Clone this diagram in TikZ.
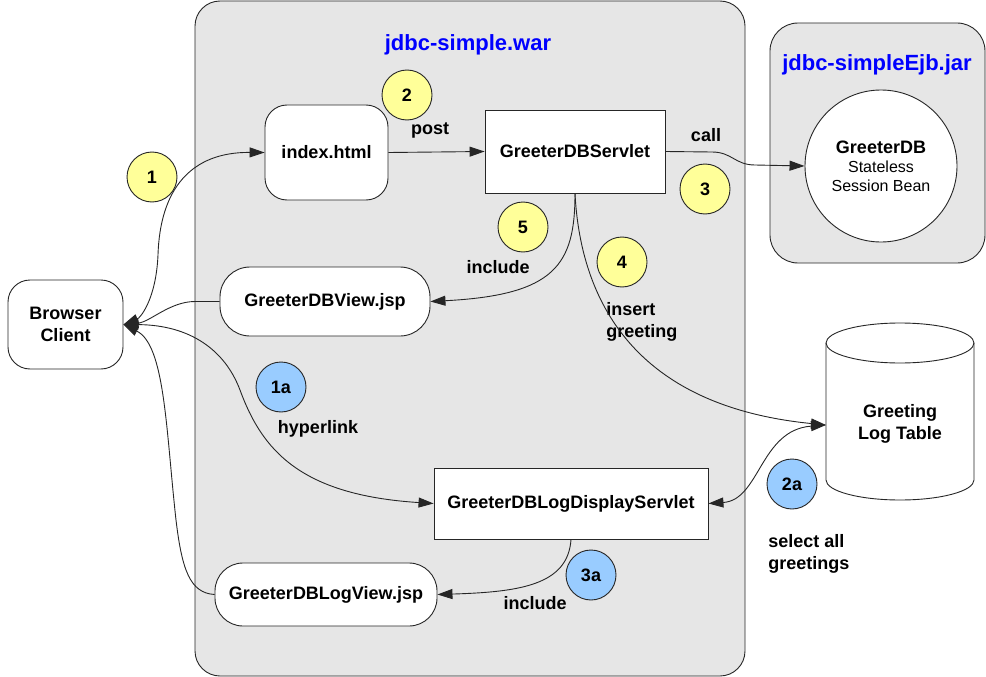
\documentclass[tikz,border=0pt]{standalone}
\usepackage{fontspec}
\setmainfont{Liberation Sans}
\usetikzlibrary{arrows.meta}
\definecolor{warfill}{RGB}{230,230,230}
\definecolor{stepyellow}{RGB}{255,255,153}
\definecolor{stepblue}{RGB}{153,204,255}
\newcommand{\lblfont}{\fontsize{18}{21.5}\selectfont\bfseries}
\tikzset{
  lbl/.style={font=\lblfont, inner sep=0pt},
  page/.style={draw, fill=white, rounded corners=22pt, inner sep=0pt, align=center, font=\lblfont},
  servlet/.style={draw, fill=white, inner sep=0pt, font=\lblfont},
  ybullet/.style={circle, draw, fill=stepyellow, minimum size=50pt, inner sep=0pt, font=\lblfont},
  bbullet/.style={ybullet, fill=stepblue},
  title/.style={text=blue, inner sep=0pt, font=\fontsize{22}{26}\selectfont\bfseries},
  flow/.style={-{Triangle[length=15pt,width=10pt]}},
  flow2/.style={{Triangle[length=15pt,width=10pt]}-{Triangle[length=15pt,width=10pt]}},
}
\begin{document}
\begin{tikzpicture}[x=1pt, y=-1pt, line width=0.9pt, draw=black!85]
      \useasboundingbox (0,0) rectangle (986,677);
      \draw[fill=warfill, rounded corners=25pt] (195,1) rectangle (745,676);
      \draw[fill=warfill, rounded corners=28pt] (770,23) rectangle (985,263);
      \node[title] (wartitle) at (468,45) {jdbc-simple.war};
      \node[title] (jartitle) at (877,65) {jdbc-simpleEjb.jar};
      \node[page, minimum width=115pt, minimum height=89pt] (bc) at (65.5,324.5) {Browser\\Client};
      \node[page, minimum width=123pt, minimum height=95pt] (idx) at (326.5,152.5) {index.html};
      \node[servlet, minimum width=180pt, minimum height=83pt] (srv) at (575,151.5) {GreeterDBServlet};
      \node[page, rounded corners=30pt, minimum width=210pt, minimum height=69pt] (gv) at (325,301.5) {GreeterDBView.jsp};
      \node[servlet, minimum width=274pt, minimum height=71pt] (lds) at (571,503.5) {GreeterDBLogDisplayServlet};
      \node[page, rounded corners=28pt, minimum width=222pt, minimum height=63pt] (glv) at (326,594.5) {GreeterDBLogView.jsp};
      \node[circle, draw, fill=white, minimum size=152pt, inner sep=0pt, align=center,
        font=\fontsize{16}{19}\selectfont] (gdb) at (881,166) {{\lblfont GreeterDB}\\Stateless\\Session Bean};
      \draw[fill=white] (826,343) -- (826,480) arc[start angle=180, end angle=0, x radius=74, y radius=20]
        -- (974,343) arc[start angle=0, end angle=-180, x radius=74, y radius=20] -- cycle;
      \draw (826,343) arc[start angle=180, end angle=0, x radius=74, y radius=20];
      \node[lbl, align=center] (glt) at (900,424) {Greeting\\Log Table};
      \coordinate (dbin) at (826,425);
      \node[ybullet] (s1) at (152,177) {1};
      \node[ybullet] (s2) at (407,95) {2};
      \node[ybullet] (s3) at (705,189) {3};
      \node[ybullet] (s4) at (622,262) {4};
      \node[ybullet] (s5) at (523,227) {5};
      \node[bbullet] (s1a) at (281,387) {1a};
      \node[bbullet] (s2a) at (792,484) {2a};
      \node[bbullet] (s3a) at (591,575) {3a};
      \node[lbl] (post) at (430,130) {post};
      \node[lbl] (call) at (706,135) {call};
      \node[lbl] (inc) at (498,267) {include};
      \node[lbl, align=left, anchor=west] (ins) at (606,322) {insert\\greeting};
      \node[lbl] (hyp) at (318,429) {hyperlink};
      \node[lbl, align=left, anchor=west] (sel) at (768,554) {select all\\greetings};
      \node[lbl] (inca) at (535,603) {include};
      \begin{scope}[flow]
        \draw[flow2] (bc.east) .. controls (140,318) and (156,300) .. (158,255) .. controls (160,190) and (190,152) .. (idx.west);
        \draw (gv.west) -- (195,301.5) .. controls (170,301.5) and (150,322) .. (bc.east);
        \draw[flow2] (bc.east) .. controls (190,325) and (225,350) .. (240,390) .. controls (262,450) and (300,495) .. (lds.west);
        \draw (glv.west) .. controls (190,593) and (182,570) .. (176,520) .. controls (166,430) and (165,345) .. (bc.east);
        \draw (idx.east) -- (srv.west);
        \draw (srv.east) -- (712,152) .. controls (732,152) and (735,165) .. (755,165) -- (gdb.west);
        \draw (srv.south) .. controls (575,265) and (555,295) .. (gv.east);
        \draw (srv.south) .. controls (580,290) and (625,405) .. (dbin);
        \draw[flow2] (lds.east) .. controls (760,500) and (760,430) .. (dbin);
        \draw (lds.south) .. controls (568,585) and (520,592) .. (glv.east);
      \end{scope}
    \end{tikzpicture}
\end{document}
